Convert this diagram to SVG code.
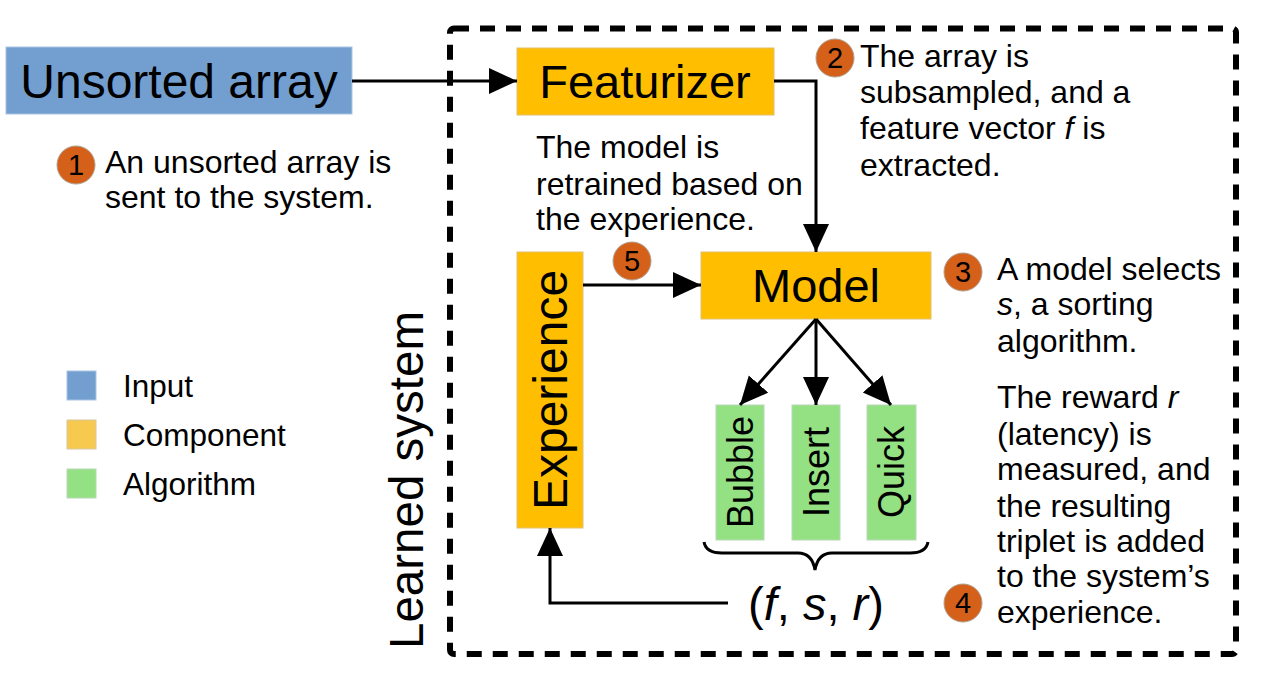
<svg xmlns="http://www.w3.org/2000/svg" width="1282" height="684" viewBox="0 0 1282 684">
<defs>
<marker id="arr" markerUnits="userSpaceOnUse" markerWidth="30" markerHeight="28" refX="28" refY="13" orient="auto">
<path d="M0,0 L28,13 L0,26 z" fill="#000"/>
</marker>
<style>
text{font-family:"Liberation Sans",Arial,sans-serif;fill:#000}
.big{font-size:47px}
.alg{font-size:36px}
.note{font-size:32px}
.leg{font-size:31.5px}
.num{font-size:29px;text-anchor:middle}
.comp{fill:#ffbf00;stroke:#e0c070;stroke-width:1}
.algo{fill:#94e184;stroke:#b8d8b8;stroke-width:1}
.badge{fill:#d5601a;stroke:#b0a090;stroke-width:1}
.conn{fill:none;stroke:#000;stroke-width:3}
.mid{text-anchor:middle}
.it{font-style:italic}
</style>
</defs>
<rect width="1282" height="684" fill="#fff"/>

<g id="learned-system">
<rect x="450" y="28.5" width="786" height="625.5" rx="4" fill="none" stroke="#000" stroke-width="6" stroke-dasharray="15 11"/>
<text class="mid" transform="translate(423,480) rotate(-90)" style="font-size:47.5px">Learned system</text>
</g>

<g id="unsorted-array">
<rect x="6" y="47" width="346" height="67" fill="#729fcf" stroke="#a8c4e4" stroke-width="1"/>
<text class="big mid" x="179" y="98" style="font-size:48px">Unsorted array</text>
</g>

<g id="featurizer">
<rect class="comp" x="517" y="48" width="257" height="67"/>
<text class="big mid" x="645" y="98">Featurizer</text>
</g>

<g id="model">
<rect class="comp" x="701" y="252" width="230" height="67"/>
<text class="big mid" x="816" y="302">Model</text>
</g>

<g id="experience">
<rect class="comp" x="517" y="252" width="66" height="276"/>
<text class="big mid" transform="translate(567,390) rotate(-90)" style="font-size:48px">Experience</text>
</g>

<g id="bubble">
<rect class="algo" x="716" y="405" width="48" height="135"/>
<text class="alg mid" transform="translate(753,472) rotate(-90)">Bubble</text>
</g>
<g id="insert">
<rect class="algo" x="792" y="405" width="48" height="135"/>
<text class="alg mid" transform="translate(829,472) rotate(-90)">Insert</text>
</g>
<g id="quick">
<rect class="algo" x="867" y="405" width="49" height="135"/>
<text class="alg mid" transform="translate(904,472) rotate(-90)">Quick</text>
</g>

<g id="connectors">
<path class="conn" d="M352,81 H517" marker-end="url(#arr)"/>
<path class="conn" d="M774,81 H816 V252" marker-end="url(#arr)"/>
<path class="conn" d="M583,285 H701" marker-end="url(#arr)"/>
<path class="conn" d="M816,319 L740,405" marker-end="url(#arr)"/>
<path class="conn" d="M816,319 V405" marker-end="url(#arr)"/>
<path class="conn" d="M816,319 L891,405" marker-end="url(#arr)"/>
<path class="conn" d="M728,603 H550 V528" marker-end="url(#arr)"/>
<path class="conn" d="M704,542 Q706,553 722,553 H798 Q812,553 815,570 Q818,553 832,553 H910 Q926,553 928,542"/>
</g>

<g id="triplet">
<text class="mid" x="816" y="620" style="font-size:47px">(<tspan class="it">f</tspan>, <tspan class="it">s</tspan>, <tspan class="it">r</tspan>)</text>
</g>

<g id="step1">
<circle class="badge" cx="76" cy="165" r="19"/>
<text class="num" x="76" y="175">1</text>
<text class="note" x="105" y="173">An unsorted array is</text>
<text class="note" x="105" y="208">sent to the system.</text>
</g>

<g id="step2">
<circle class="badge" cx="835" cy="58" r="19"/>
<text class="num" x="835" y="68">2</text>
<text class="note" x="860" y="67">The array is</text>
<text class="note" x="860" y="103">subsampled, and a</text>
<text class="note" x="860" y="139">feature vector <tspan class="it">f</tspan> is</text>
<text class="note" x="860" y="176">extracted.</text>
</g>

<g id="step3">
<circle class="badge" cx="963" cy="272" r="19"/>
<text class="num" x="963" y="282">3</text>
<text class="note" x="997" y="280">A model selects</text>
<text class="note" x="997" y="315"><tspan class="it">s</tspan>, a sorting</text>
<text class="note" x="997" y="352">algorithm.</text>
</g>

<g id="step4">
<circle class="badge" cx="963" cy="603" r="19"/>
<text class="num" x="963" y="613">4</text>
<text class="note" x="997" y="408">The reward <tspan class="it">r</tspan></text>
<text class="note" x="997" y="445">(latency) is</text>
<text class="note" x="997" y="480">measured, and</text>
<text class="note" x="997" y="517">the resulting</text>
<text class="note" x="997" y="552">triplet is added</text>
<text class="note" x="997" y="587">to the system’s</text>
<text class="note" x="997" y="623">experience.</text>
</g>

<g id="step5">
<circle class="badge" cx="632" cy="261" r="19"/>
<text class="num" x="632" y="271">5</text>
<text class="note" x="536" y="158">The model is</text>
<text class="note" x="536" y="195">retrained based on</text>
<text class="note" x="536" y="230">the experience.</text>
</g>

<g id="legend">
<rect x="67" y="371" width="29" height="29" fill="#729fcf" stroke="#a8c4e4" stroke-width="1"/>
<text class="leg" x="123" y="397">Input</text>
<rect x="67" y="420" width="29" height="29" fill="#f7c94e" stroke="#d8c8a0" stroke-width="1"/>
<text class="leg" x="123" y="446">Component</text>
<rect x="67" y="469" width="29" height="29" fill="#94e184" stroke="#b8d8b8" stroke-width="1"/>
<text class="leg" x="123" y="495">Algorithm</text>
</g>
</svg>
